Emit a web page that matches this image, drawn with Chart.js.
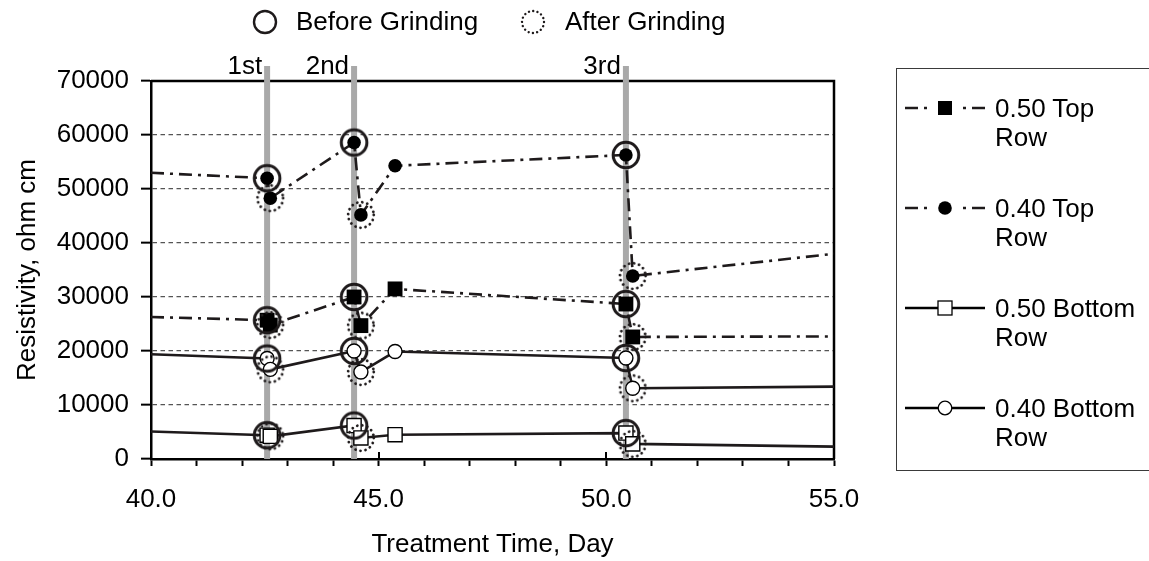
<!DOCTYPE html>
<html>
<head>
<meta charset="utf-8">
<title>Resistivity vs Treatment Time</title>
<script src="https://cdn.jsdelivr.net/npm/chart.js@4.4.1/dist/chart.umd.min.js"></script>
<style>
  html, body { margin: 0; padding: 0; background: #fff; }
  #wrap {
    position: relative; width: 1149px; height: 561px; overflow: hidden;
    font-family: "Liberation Sans", Arial, sans-serif; color: #000;
  }
  #chart { position: absolute; left: 0; top: 0; }
  .txt { position: absolute; font-size: 26px; line-height: 28px; white-space: nowrap; }
  #seriesKey {
    position: absolute; left: 896px; top: 68px; width: 280px; height: 403px;
    border: 1.5px solid #3a3a3a; box-sizing: border-box;
  }
  svg.icon { position: absolute; overflow: visible; }
</style>
</head>
<body>
<div id="wrap">
  <canvas id="chart" width="1149" height="561"></canvas>
  <div id="seriesKey"></div>
</div>
<script>
"use strict";

// ---------- Data ----------
// readings share the same days; first/last entries are where the lines cross the axis limits
const days = [40, 42.55, 42.62, 44.46, 44.61, 45.36, 50.43, 50.58, 55];
const top050 = [26300, 25700, 24800, 30000, 24700, 31500, 28700, 22600, 22700];
const top040 = [53000, 52000, 48300, 58600, 45200, 54300, 56300, 33900, 38000];
const bottom050 = [5100, 4400, 4200, 6200, 3900, 4500, 4800, 2800, 2300];
const bottom040 = [19400, 18600, 16600, 20000, 16100, 19900, 18700, 13100, 13400];

// readings taken just before / just after each grinding (indexes into days)
const beforeIdx = [1, 3, 6];
const afterIdx = [2, 4, 7];
const grindNames = ["1st", "2nd", "3rd"];

const seriesNames = ["0.50 Top Row", "0.40 Top Row", "0.50 Bottom Row", "0.40 Bottom Row"];
const xLabelDays = [40, 45, 50, 55];
const yTickValues = [0, 10000, 20000, 30000, 40000, 50000, 60000, 70000];

const X_MIN = 40, X_MAX = 55, Y_MIN = 0, Y_MAX = 70000;
const FONT = "'Liberation Sans', Arial, sans-serif";
const INK = "#1e1a1b";
const DASH_DOT = [13, 6, 3, 6];

const series = [
  { name: seriesNames[0], values: top050, style: "rect", fill: "#000", dash: DASH_DOT, r: 10.5 },
  { name: seriesNames[1], values: top040, style: "circle", fill: "#000", dash: DASH_DOT, r: 6.8 },
  { name: seriesNames[2], values: bottom050, style: "rect", fill: "#fff", dash: [], r: 10 },
  { name: seriesNames[3], values: bottom040, style: "circle", fill: "#fff", dash: [], r: 7 }
];

// ---------- Helpers ----------
function toPoints(values) {
  return days.map((d, i) => ({ x: d, y: values[i] }));
}

function markerRadii(r) {
  // no marker where the line only runs into the plot edge
  return days.map(d => (d <= X_MIN || d >= X_MAX ? 0 : r));
}

function ringPoints(idxList) {
  const pts = [];
  for (const s of series) {
    for (const i of idxList) pts.push({ x: days[i], y: s.values[i] });
  }
  return pts;
}

function ringImage(r, dotted) {
  const c = document.createElement("canvas");
  const size = 2 * Math.ceil(r + 3);
  c.width = size;
  c.height = size;
  const g = c.getContext("2d");
  g.strokeStyle = INK;
  g.lineCap = "round";
  if (dotted) {
    g.lineWidth = 2.8;
    g.setLineDash([0.01, 5.1]);
  } else {
    g.lineWidth = 3;
  }
  g.beginPath();
  g.arc(size / 2, size / 2, r, 0, Math.PI * 2);
  g.stroke();
  return c;
}

// ---------- Datasets ----------
const lineSets = series.map(s => ({
  label: s.name,
  data: toPoints(s.values),
  order: 2,
  borderColor: INK,
  borderWidth: 2.6,
  borderDash: s.dash,
  tension: 0,
  pointStyle: s.style,
  pointRadius: markerRadii(s.r),
  pointBackgroundColor: s.fill,
  pointBorderColor: "#000",
  pointBorderWidth: s.fill === "#000" ? 0 : 1.4
}));

const ringSets = [
  { label: "Before Grinding", data: ringPoints(beforeIdx), pointStyle: ringImage(12.8, false) },
  { label: "After Grinding", data: ringPoints(afterIdx), pointStyle: ringImage(12.8, true) }
].map(d => Object.assign(d, { showLine: false, order: 1, pointRadius: 13 }));

// ---------- Plot frame, long ticks and grinding markers ----------
const framePlugin = {
  id: "frame",
  beforeDatasetsDraw(chart) {
    const { ctx, chartArea: a } = chart;
    const x = chart.scales.x;
    ctx.save();
    ctx.strokeStyle = "#000";
    ctx.lineWidth = 2.5;
    ctx.beginPath();
    ctx.moveTo(a.left, a.top);
    ctx.lineTo(a.right, a.top);
    ctx.lineTo(a.right, a.bottom);
    ctx.stroke();

    ctx.lineWidth = 2;
    ctx.beginPath();
    for (const d of xLabelDays) {
      const px = Math.round(x.getPixelForValue(d));
      ctx.moveTo(px, a.bottom);
      ctx.lineTo(px, a.bottom - 7);
    }
    ctx.stroke();

    ctx.font = "26px " + FONT;
    ctx.textAlign = "right";
    ctx.textBaseline = "alphabetic";
    beforeIdx.forEach((i, k) => {
      const px = x.getPixelForValue(days[i]);
      ctx.fillStyle = "#a9a9a9";
      ctx.fillRect(px - 3, a.top - 15, 6, a.bottom - a.top + 15);
      ctx.fillStyle = "#000";
      ctx.fillText(grindNames[k], px - 5, a.top - 7);
    });
    ctx.restore();
  }
};

// ---------- Chart ----------
Chart.defaults.font.family = FONT;
Chart.defaults.font.size = 26;
Chart.defaults.color = "#000";

new Chart(document.getElementById("chart"), {
  type: "line",
  data: { datasets: [...lineSets, ...ringSets] },
  plugins: [framePlugin],
  options: {
    responsive: false,
    animation: false,
    events: [],
    layout: { padding: { left: 0, top: 81, right: 315, bottom: 0 } },
    plugins: { legend: { display: false }, tooltip: { enabled: false } },
    scales: {
      x: {
        type: "linear",
        min: X_MIN,
        max: X_MAX,
        afterFit: s => { s.height = 102; },
        grid: { drawOnChartArea: false, tickLength: 7, tickColor: "#000", tickWidth: 2 },
        border: { color: "#000", width: 2.5 },
        ticks: {
          stepSize: 1,
          autoSkip: false,
          maxRotation: 0,
          padding: 18,
          callback: v => (xLabelDays.includes(v) ? v.toFixed(1) : "")
        },
        title: { display: true, text: "Treatment Time, Day", padding: { top: 0, bottom: 1 } }
      },
      y: {
        min: Y_MIN,
        max: Y_MAX,
        afterFit: s => { s.width = 151; },
        afterBuildTicks: s => { s.ticks = yTickValues.map(v => ({ value: v })); },
        grid: {
          color: c => (c.tick && (c.tick.value === Y_MIN || c.tick.value === Y_MAX) ? "rgba(0,0,0,0)" : "#555"),
          lineWidth: 1.3,
          tickLength: 10,
          tickColor: "#000",
          tickWidth: 2,
          tickBorderDash: []
        },
        border: { color: "#000", width: 2.5, dash: [4.5, 3.5] },
        ticks: { padding: 12, callback: v => String(v) },
        title: { display: true, text: "Resistivity, ohm cm", padding: { top: 12, bottom: 0 } }
      }
    }
  }
});

// ---------- Keys ----------
const SVG_NS = "http://www.w3.org/2000/svg";
const wrap = document.getElementById("wrap");

function svgEl(tag, attrs) {
  const el = document.createElementNS(SVG_NS, tag);
  for (const k in attrs) el.setAttribute(k, attrs[k]);
  return el;
}

function addText(text, left, top) {
  const div = document.createElement("div");
  div.className = "txt";
  div.textContent = text;
  div.style.left = left + "px";
  div.style.top = top + "px";
  wrap.appendChild(div);
  return div;
}

function addIcon(left, top, w, h) {
  const svg = svgEl("svg", { class: "icon", width: w, height: h });
  svg.style.left = left + "px";
  svg.style.top = top + "px";
  wrap.appendChild(svg);
  return svg;
}

// before / after grinding key across the top
[
  { label: ringSets[0].label, cx: 265, textLeft: 296, dotted: false },
  { label: ringSets[1].label, cx: 533, textLeft: 565, dotted: true }
].forEach(k => {
  const svg = addIcon(k.cx - 14, 8, 28, 28);
  svg.appendChild(svgEl("circle", {
    cx: 14, cy: 14, r: 11, fill: "none", stroke: INK,
    "stroke-width": 2.4,
    "stroke-dasharray": k.dotted ? "0.01 4.3" : "none",
    "stroke-linecap": "round"
  }));
  addText(k.label, k.textLeft, 7);
});

// series key on the right
series.forEach((s, i) => {
  const rowY = 108 + i * 100;
  const svg = addIcon(905, rowY - 10, 80, 20);
  const cx = 40, cy = 10;
  if (s.dash.length) {
    svg.appendChild(svgEl("line", { x1: 0, y1: cy, x2: 13, y2: cy, stroke: INK, "stroke-width": 2.5 }));
    svg.appendChild(svgEl("line", { x1: 19, y1: cy, x2: 22, y2: cy, stroke: INK, "stroke-width": 2.5 }));
    svg.appendChild(svgEl("line", { x1: 58, y1: cy, x2: 61, y2: cy, stroke: INK, "stroke-width": 2.5 }));
    svg.appendChild(svgEl("line", { x1: 67, y1: cy, x2: 80, y2: cy, stroke: INK, "stroke-width": 2.5 }));
  } else {
    svg.appendChild(svgEl("line", { x1: 0, y1: cy, x2: 80, y2: cy, stroke: "#000", "stroke-width": 2.5 }));
  }
  const stroke = s.fill === "#000" ? "none" : "#000";
  if (s.style === "rect") {
    svg.appendChild(svgEl("rect", { x: cx - 7, y: cy - 7, width: 14, height: 14, fill: s.fill, stroke, "stroke-width": 1.3 }));
  } else {
    svg.appendChild(svgEl("circle", { cx, cy, r: 6.8, fill: s.fill, stroke, "stroke-width": 1.3 }));
  }
  const cut = s.name.lastIndexOf(" ");
  addText(s.name.slice(0, cut), 995, rowY - 14);
  addText(s.name.slice(cut + 1), 995, rowY + 15);
});
</script>
</body>
</html>
